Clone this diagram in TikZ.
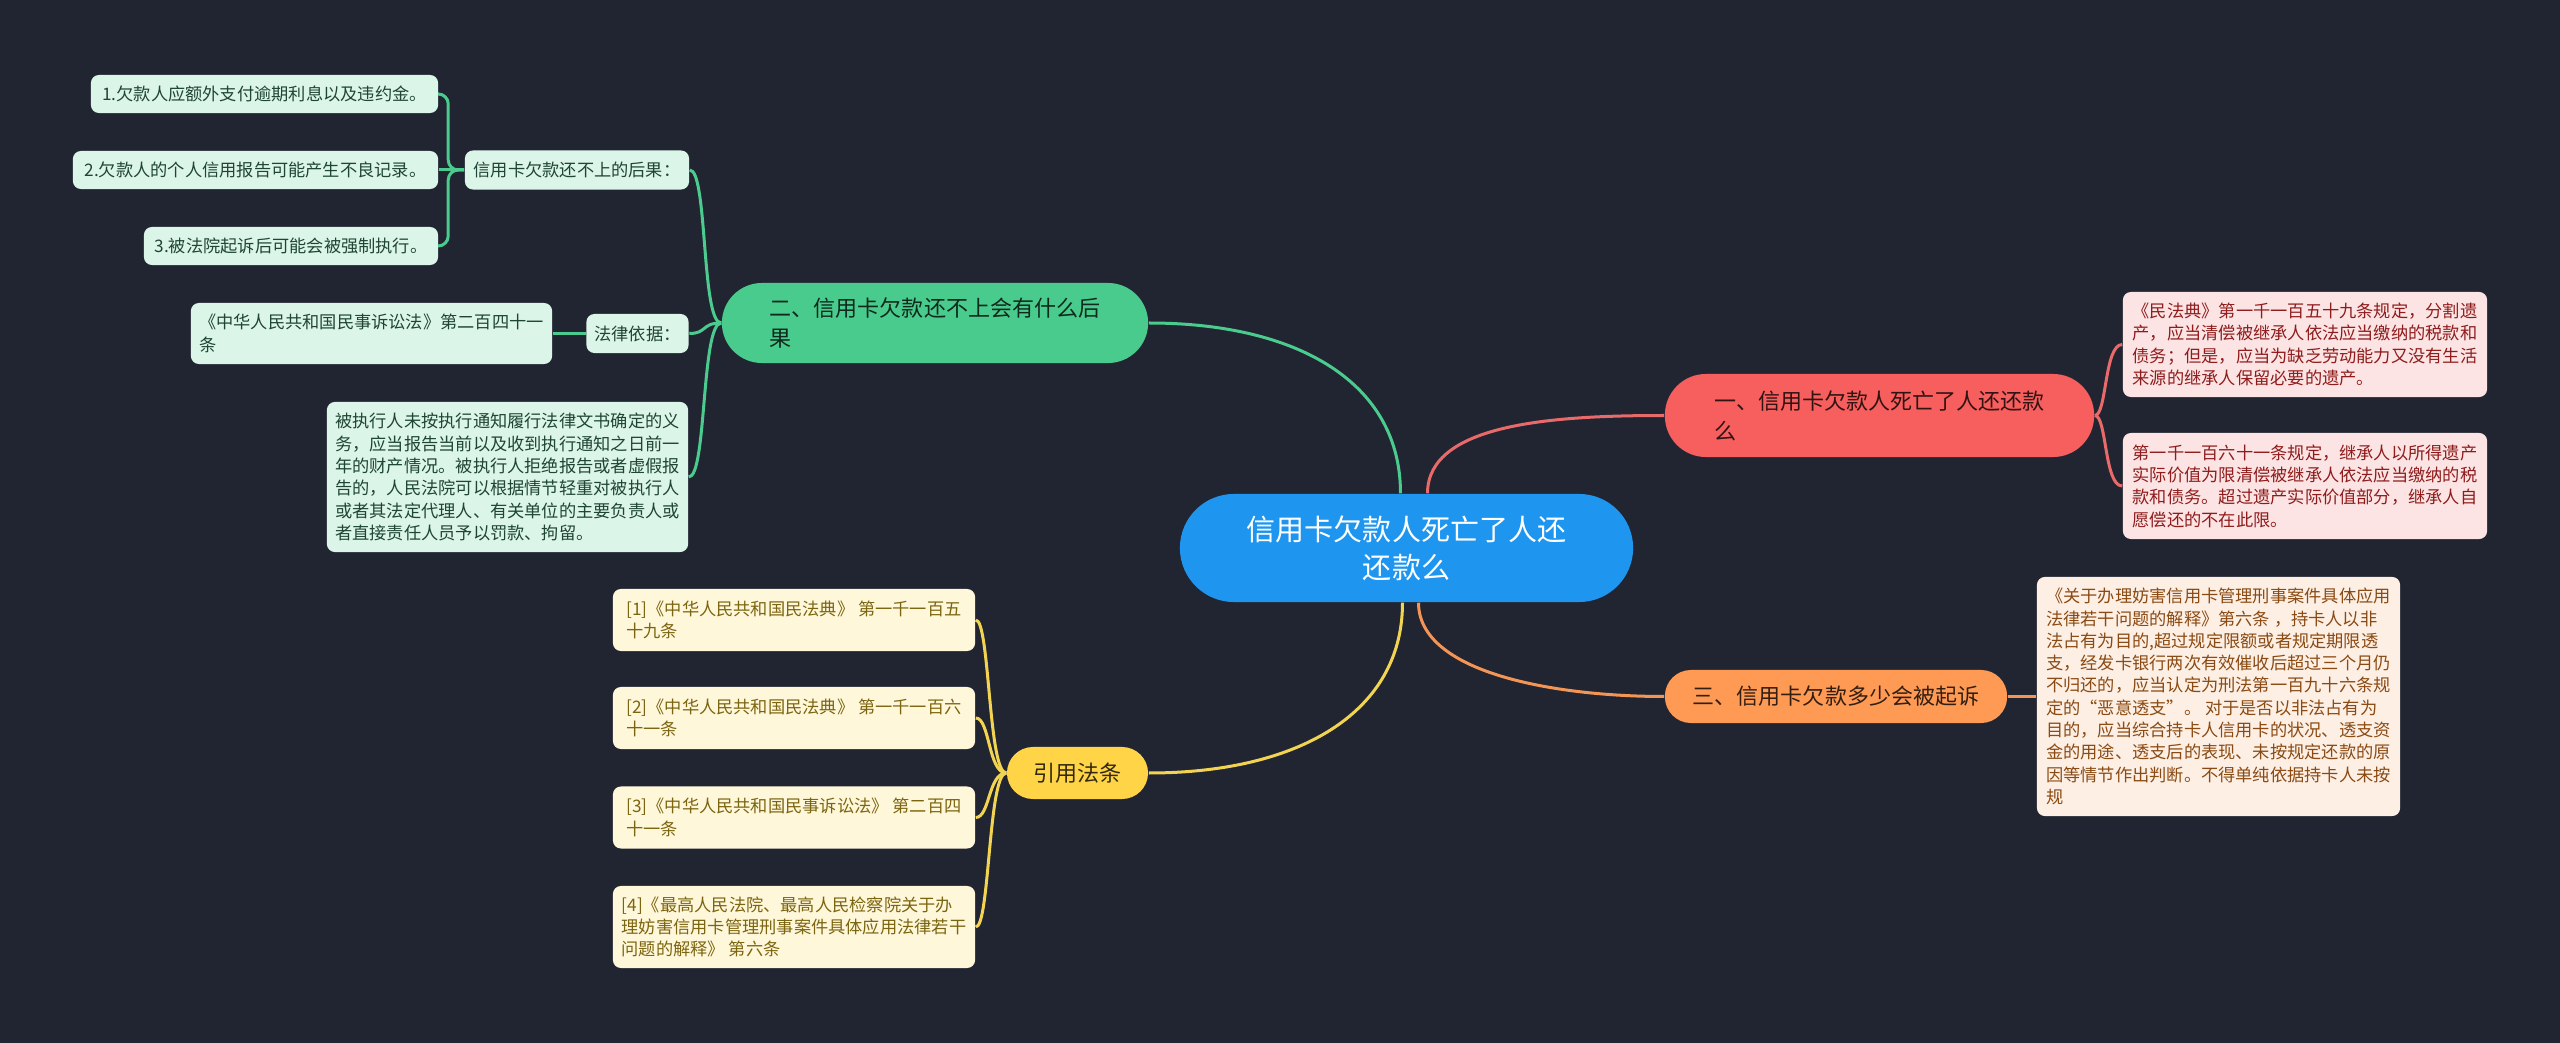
\documentclass[tikz,border=0pt]{standalone}
\usepackage{fontspec}
\setmainfont{Noto Sans CJK SC}
\definecolor{bgcol}{HTML}{212531}
\definecolor{rootblue}{HTML}{1E96F0}
\definecolor{redmain}{HTML}{F65F5D}
\definecolor{redleaffill}{HTML}{FDE4E4}
\definecolor{redtext}{HTML}{8E1C1C}
\definecolor{redline}{HTML}{E86A6A}
\definecolor{greenmain}{HTML}{49CB8D}
\definecolor{greenleaffill}{HTML}{DCF5E9}
\definecolor{greentext}{HTML}{1F4533}
\definecolor{greenline}{HTML}{4BCB8E}
\definecolor{orangemain}{HTML}{FF9A55}
\definecolor{orangeleaffill}{HTML}{FEEFE4}
\definecolor{orangetext}{HTML}{8A4A13}
\definecolor{orangeline}{HTML}{F49555}
\definecolor{yellowmain}{HTML}{FFD447}
\definecolor{yellowleaffill}{HTML}{FFF7DA}
\definecolor{yellowtext}{HTML}{7C6510}
\definecolor{yellowline}{HTML}{F2D452}
\tikzset{
    rootnode/.style={fill=rootblue, text=white, align=center, inner sep=0pt,
        minimum width=4.53cm, minimum height=1.08cm, rounded corners=0.54cm,
        font=\fontsize{8.25pt}{10.8pt}\selectfont},
    branch/.style={align=left, inner sep=0pt, font=\fontsize{6.26pt}{8.5pt}\selectfont},
    leaf/.style={align=left, inner xsep=0.08cm, inner ysep=0pt, rounded corners=0.08cm,
        font=\fontsize{4.9pt}{6.34pt}\selectfont},
    greenleaf/.style={leaf, fill=greenleaffill, text=greentext},
    redleaf/.style={leaf, fill=redleaffill, text=redtext},
    orangeleaf/.style={leaf, fill=orangeleaffill, text=orangetext},
    yellowleaf/.style={leaf, fill=yellowleaffill, text=yellowtext},
    link/.style={line width=0.03cm}
}
\begin{document}
\begin{tikzpicture}[x=0.01cm, y=-0.01cm]
    \fill[bgcol] (0,0) rectangle (2560,1043);

    \node[rootnode] (root) at (1406.5,548) {信用卡欠款人死亡了人还\\还款么};

    \node[branch, fill=redmain, text=black!80!redmain, minimum width=4.29cm, minimum height=0.83cm, rounded corners=0.41cm] (b1) at (1879.5,415.5) {一、信用卡欠款人死亡了人还还款\\么};
    \node[branch, fill=greenmain, text=black!80!greenmain, minimum width=4.26cm, minimum height=0.8cm, rounded corners=0.4cm] (b2) at (935,323) {二、信用卡欠款还不上会有什么后\\果};
    \node[branch, fill=orangemain, text=black!80!orangemain, minimum width=3.42cm, minimum height=0.53cm, rounded corners=0.26cm] (b3) at (1836,696.5) {三、信用卡欠款多少会被起诉};
    \node[branch, fill=yellowmain, text=black!80!yellowmain, minimum width=1.41cm, minimum height=0.52cm, rounded corners=0.26cm] (b4) at (1077.5,773) {引用法条};

    \node[greenleaf, minimum width=2.24cm, minimum height=0.39cm] (g1) at (577,170) {信用卡欠款还不上的后果：};
    \node[greenleaf, minimum width=3.47cm, minimum height=0.38cm] (g11) at (264.5,94) {1.欠款人应额外支付逾期利息以及违约金。};
    \node[greenleaf, minimum width=3.65cm, minimum height=0.38cm] (g12) at (255.5,170) {2.欠款人的个人信用报告可能产生不良记录。};
    \node[greenleaf, minimum width=2.94cm, minimum height=0.38cm] (g13) at (291,246) {3.被法院起诉后可能会被强制执行。};
    \node[greenleaf, minimum width=1.01cm, minimum height=0.39cm] (g2) at (637.5,333.5) {法律依据：};
    \node[greenleaf, minimum width=3.61cm, minimum height=0.61cm] (g21) at (371.5,333.5) {《中华人民共和国民事诉讼法》第二百四十一\\条};
    \node[greenleaf, minimum width=3.61cm, minimum height=1.5cm] (g3) at (507.5,477) {被执行人未按执行通知履行法律文书确定的义\\务，应当报告当前以及收到执行通知之日前一\\年的财产情况。被执行人拒绝报告或者虚假报\\告的，人民法院可以根据情节轻重对被执行人\\或者其法定代理人、有关单位的主要负责人或\\者直接责任人员予以罚款、拘留。};

    \node[redleaf, minimum width=3.64cm, minimum height=1.05cm] (r1) at (2305,344.5) {《民法典》第一千一百五十九条规定，分割遗\\产，应当清偿被继承人依法应当缴纳的税款和\\债务；但是，应当为缺乏劳动能力又没有生活\\来源的继承人保留必要的遗产。};
    \node[redleaf, minimum width=3.64cm, minimum height=1.06cm] (r2) at (2305,486) {第一千一百六十一条规定，继承人以所得遗产\\实际价值为限清偿被继承人依法应当缴纳的税\\款和债务。超过遗产实际价值部分，继承人自\\愿偿还的不在此限。};

    \node[orangeleaf, minimum width=3.63cm, minimum height=2.39cm] (o1) at (2218.5,696.5) {《关于办理妨害信用卡管理刑事案件具体应用\\法律若干问题的解释》第六条 ，持卡人以非\\法占有为目的,超过规定限额或者规定期限透\\支，经发卡银行两次有效催收后超过三个月仍\\不归还的，应当认定为刑法第一百九十六条规\\定的“恶意透支”。 对于是否以非法占有为\\目的，应当综合持卡人信用卡的状况、透支资\\金的用途、透支后的表现、未按规定还款的原\\因等情节作出判断。不得单纯依据持卡人未按\\规};

    \node[yellowleaf, minimum width=3.62cm, minimum height=0.62cm] (y1) at (794,620) {[1]《中华人民共和国民法典》 第一千一百五\\十九条};
    \node[yellowleaf, minimum width=3.62cm, minimum height=0.62cm] (y2) at (794,718) {[2]《中华人民共和国民法典》 第一千一百六\\十一条};
    \node[yellowleaf, minimum width=3.62cm, minimum height=0.62cm] (y3) at (794,817.5) {[3]《中华人民共和国民事诉讼法》 第二百四\\十一条};
    \node[yellowleaf, minimum width=3.62cm, minimum height=0.82cm] (y4) at (794,927) {[4]《最高人民法院、最高人民检察院关于办\\理妨害信用卡管理刑事案件具体应用法律若干\\问题的解释》 第六条};

    \draw[link, greenline] ([xshift=-0.06cm]root.north) .. controls +(0,-110) and +(150,0) .. (b2.east);
    \draw[link, redline] ([xshift=0.21cm]root.north) .. controls +(0,-70) and +(-110,0) .. (b1.west);
    \draw[link, orangeline] ([xshift=0.12cm]root.south) .. controls +(0,70) and +(-110,0) .. (b3.west);
    \draw[link, yellowline] ([xshift=-0.04cm]root.south) .. controls +(0,110) and +(150,0) .. (b4.east);

    \draw[link, greenline] (b2.west) .. controls +(-20,0) and +(18,0) .. (g1.east);
    \draw[link, greenline] (b2.west) .. controls +(-20,0) and +(18,0) .. (g2.east);
    \draw[link, greenline] (b2.west) .. controls +(-20,0) and +(18,0) .. (g3.east);
    \draw[link, greenline, rounded corners=0.1cm] (g1.west) -- ++(-16,0) |- (g11.east);
    \draw[link, greenline] (g1.west) -- (g12.east);
    \draw[link, greenline, rounded corners=0.1cm] (g1.west) -- ++(-16,0) |- (g13.east);
    \draw[link, greenline] (g2.west) -- (g21.east);

    \draw[link, redline] (b1.east) .. controls +(12,0) and +(-18,0) .. (r1.west);
    \draw[link, redline] (b1.east) .. controls +(12,0) and +(-18,0) .. (r2.west);

    \draw[link, orangeline] (b3.east) -- (o1.west);

    \draw[link, yellowline] (b4.west) .. controls +(-18,0) and +(14,0) .. (y1.east);
    \draw[link, yellowline] (b4.west) .. controls +(-18,0) and +(14,0) .. (y2.east);
    \draw[link, yellowline] (b4.west) .. controls +(-18,0) and +(14,0) .. (y3.east);
    \draw[link, yellowline] (b4.west) .. controls +(-18,0) and +(14,0) .. (y4.east);
\end{tikzpicture}
\end{document}
